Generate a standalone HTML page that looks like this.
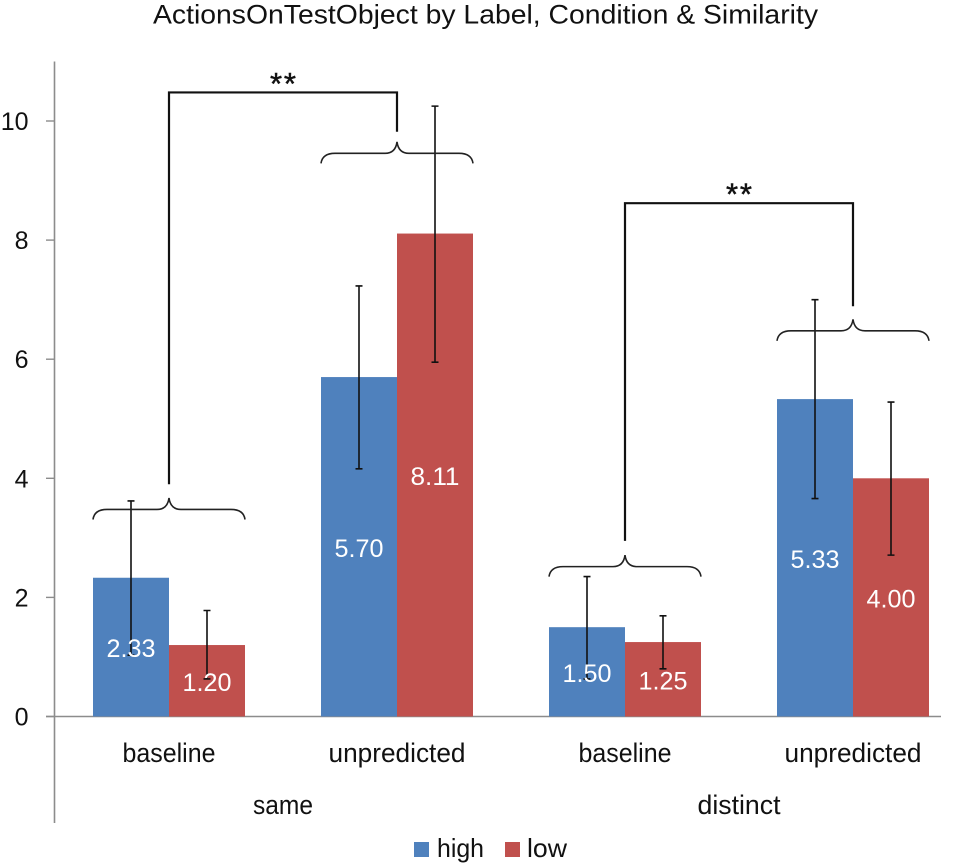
<!DOCTYPE html>
<html lang="en">
<head>
<meta charset="utf-8">
<title>ActionsOnTestObject by Label, Condition &amp; Similarity</title>
<style>
html,body{margin:0;padding:0;background:#fff;width:968px;height:865px;overflow:hidden}
svg{display:block}
text{font-family:"Liberation Sans",sans-serif;fill:#111}
</style>
</head>
<body>
<svg id="chart" xmlns="http://www.w3.org/2000/svg" width="968" height="865" viewBox="0 0 968 865">
  <rect width="968" height="865" fill="#fff"/>
  <text x="153" y="23.5" font-size="26.5" textLength="665" lengthAdjust="spacingAndGlyphs">ActionsOnTestObject by Label, Condition &amp; Similarity</text>
  <g id="axes"></g>
  <g id="bars"></g>
  <g id="errors"></g>
  <g id="labels"></g>
  <g id="notes"></g>
  <g>
    <rect x="414" y="842" width="15" height="15" fill="#4f81bd"/>
    <text x="437" y="857" font-size="26" textLength="47" lengthAdjust="spacingAndGlyphs">high</text>
    <rect x="505" y="842" width="15" height="15" fill="#c0504d"/>
    <text x="527" y="857" font-size="26" textLength="40" lengthAdjust="spacingAndGlyphs">low</text>
  </g>
</svg>
<script>
const categories = ['baseline', 'unpredicted', 'baseline', 'unpredicted'];
const groups = ['same', 'distinct'];
const highValues = [2.33, 5.70, 1.50, 5.33];
const lowValues = [1.20, 8.11, 1.25, 4.00];
const highErrorTop = [3.62, 7.23, 2.35, 7.00];
const highErrorBottom = [1.03, 4.16, 0.63, 3.66];
const lowErrorTop = [1.78, 10.25, 1.69, 5.28];
const lowErrorBottom = [0.63, 5.95, 0.80, 2.71];
const yTicks = [0, 2, 4, 6, 8, 10];
const yMax = 11;
const braceTips = [3.67, 9.65, 2.71, 6.67];
const bracketPairs = [[0, 1], [2, 3]];
const bracketTops = [10.48, 8.62];
const bracketFeet = [[3.90, 9.82], [2.95, 6.89]];

const NS = 'http://www.w3.org/2000/svg';
const plotLeft = 55, zeroY = 716.5, unitPx = 59.55, bandW = 228, barW = 76;
function yScale(v) { return zeroY - v * unitPx; }
function bandCenter(i) { return plotLeft + bandW * i + bandW / 2 - 0; }
function make(tag, attrs, parent) {
  const el = document.createElementNS(NS, tag);
  for (const k in attrs) el.setAttribute(k, attrs[k]);
  parent.appendChild(el);
  return el;
}
const axes = document.getElementById('axes');
const barsG = document.getElementById('bars');
const errG = document.getElementById('errors');
const labG = document.getElementById('labels');
const notesG = document.getElementById('notes');
const axisColor = '#8c8c8c';

const yAxis = make('line', {x1: 54.5, x2: 54.5, y1: yScale(yMax), y2: 823, stroke: axisColor, 'stroke-width': 1.6}, axes);


const xAxis = make('line', {x1: 46, x2: 941, y1: zeroY, y2: zeroY, stroke: axisColor, 'stroke-width': 1.6}, axes);



yTicks.forEach(function (t) {
  const tick = make('line', {x1: 46, x2: 54.5, y1: yScale(t), y2: yScale(t), stroke: axisColor, 'stroke-width': 1.4}, axes);
  
  
  const lab = make('text', {x: 28.5, y: yScale(t) + 9, 'font-size': 25, 'text-anchor': 'end'}, axes);
  
  
  lab.textContent = String(t);
});

const catWidths = [93, 137, 93, 137];
categories.forEach(function (c, i) {
  const lab = make('text', {x: bandCenter(i) - catWidths[i] / 2, y: 762, 'font-size': 26.5, textLength: catWidths[i], lengthAdjust: 'spacingAndGlyphs'}, axes);
  
  
  lab.textContent = c;
});
const groupWidths = [60, 83];
groups.forEach(function (g, i) {
  const cx = plotLeft + bandW * (2 * i + 1) - 0;
  const lab = make('text', {x: cx - groupWidths[i] / 2, y: 814, 'font-size': 26.5, textLength: groupWidths[i], lengthAdjust: 'spacingAndGlyphs'}, axes);
  
  
  lab.textContent = g;
});

function drawSeries(values, top, bottom, offset, color, seriesName) {
  values.forEach(function (v, i) {
    const x = bandCenter(i) + offset;
    const bar = make('rect', {x: x, y: yScale(v), width: barW, height: zeroY - yScale(v), fill: color}, barsG);
    
    

    const cx = x + barW / 2;
    const err = make('path', {
      d: 'M' + cx + ' ' + yScale(top[i]) + 'V' + yScale(bottom[i]) +
         'M' + (cx - 3.5) + ' ' + yScale(top[i]) + 'H' + (cx + 3.5) +
         'M' + (cx - 3.5) + ' ' + yScale(bottom[i]) + 'H' + (cx + 3.5),
      stroke: '#111', 'stroke-width': 1.6, fill: 'none'}, errG);
    
    

    const lab = make('text', {x: cx, y: yScale(v / 2) + 10, 'font-size': 25, 'text-anchor': 'middle', textLength: 49, lengthAdjust: 'spacingAndGlyphs'}, labG);
    lab.style.fill = '#fff';
    
    
    lab.textContent = v.toFixed(2);
  });
}
drawSeries(highValues, highErrorTop, highErrorBottom, -barW, '#4f81bd', 'high');
drawSeries(lowValues, lowErrorTop, lowErrorBottom, 0, '#c0504d', 'low');

braceTips.forEach(function (tipV, i) {
  const cx = bandCenter(i), tip = yScale(tipV), flat = tip + 11.5, end = tip + 21.5, hw = 76;
  const d = 'M' + (cx - hw) + ' ' + end +
    'C' + (cx - hw + 1) + ' ' + (flat + 3) + ' ' + (cx - hw + 6) + ' ' + flat + ' ' + (cx - hw + 14) + ' ' + flat +
    'H' + (cx - 12) +
    'C' + (cx - 5) + ' ' + flat + ' ' + (cx - 1) + ' ' + (flat - 4) + ' ' + cx + ' ' + tip +
    'C' + (cx + 1) + ' ' + (flat - 4) + ' ' + (cx + 5) + ' ' + flat + ' ' + (cx + 12) + ' ' + flat +
    'H' + (cx + hw - 14) +
    'C' + (cx + hw - 6) + ' ' + flat + ' ' + (cx + hw - 1) + ' ' + (flat + 3) + ' ' + (cx + hw) + ' ' + end;
  const brace = make('path', {d: d, fill: 'none', stroke: '#222', 'stroke-width': 1.6}, notesG);
  
  
});

bracketPairs.forEach(function (pair, i) {
  const x1 = bandCenter(pair[0]), x2 = bandCenter(pair[1]), top = yScale(bracketTops[i]);
  const y1 = yScale(bracketFeet[i][0]), y2 = yScale(bracketFeet[i][1]);
  const b = make('path', {d: 'M' + x1 + ' ' + y1 + 'V' + top + 'H' + x2 + 'V' + y2, fill: 'none', stroke: '#111', 'stroke-width': 2.2}, notesG);
  
  
  const star = make('text', {x: (x1 + x2) / 2, y: top + 1.5, 'font-size': 31, 'text-anchor': 'middle', textLength: 26, lengthAdjust: 'spacing', stroke: '#111', 'stroke-width': 0.5}, notesG);
  
  
  star.textContent = '**';
});
</script>
</body>
</html>
